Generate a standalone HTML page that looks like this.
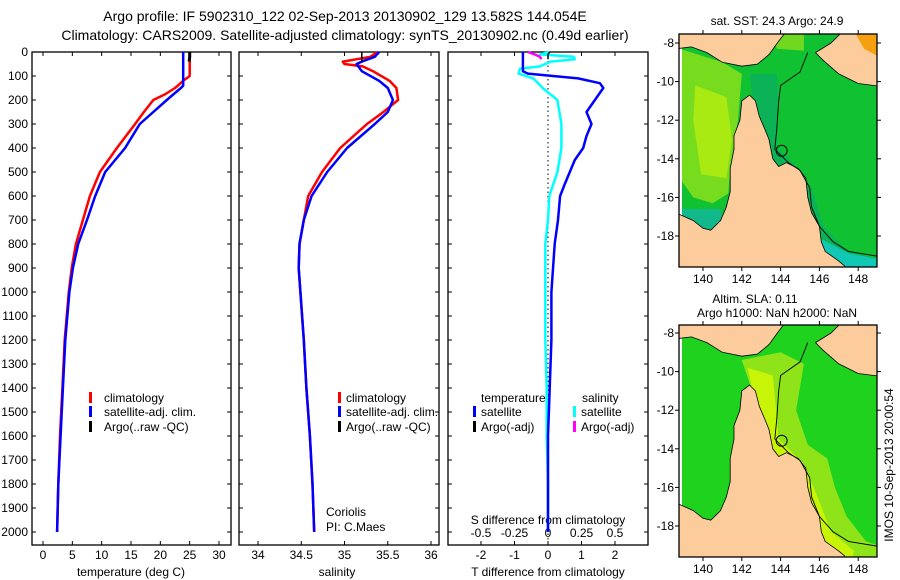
<!DOCTYPE html>
<html><head><meta charset="utf-8">
<style>
html,body{margin:0;padding:0;background:#fff;}
svg{display:block;font-family:"Liberation Sans",sans-serif;}
text{fill:#000;}
</style></head>
<body>
<svg id="fig" width="900" height="580" viewBox="0 0 900 580">
<text x="345" y="21" font-size="14" text-anchor="middle">Argo profile: IF 5902310_122 02-Sep-2013 20130902_129 13.582S 144.054E</text>
<text x="345" y="40" font-size="14" text-anchor="middle">Climatology: CARS2009. Satellite-adjusted climatology: synTS_20130902.nc (0.49d earlier)</text>
<g id="panels"></g>
<g id="maps"></g>
<text transform="translate(893,465) rotate(-90)" font-size="12" text-anchor="middle">IMOS 10-Sep-2013 20:00:54</text>
</svg>
<script>
// ---------- data ----------
const depthT = [0,40,80,100,120,140,150,175,200,250,300,400,500,600,700,800,900,1000,1200,1400,1600,1800,2000];
const tempClim = [25.0,25.0,25.0,25.0,23.9,23.0,22.5,20.9,18.8,17.2,15.7,12.6,9.7,8.0,6.8,5.6,4.9,4.4,3.7,3.3,2.9,2.6,2.4];
const tempSat  = [23.9,23.9,23.9,23.9,23.9,23.9,23.5,22.3,21.1,18.8,16.5,14.0,10.6,8.9,7.5,6.0,5.1,4.5,3.8,3.4,3.0,2.6,2.4];
const depthArgo = [0,20,40];
const tempArgo = [25.0,25.0,24.9];
const depthS = [0,20,40,50,60,80,120,150,200,250,300,400,500,600,700,800,900,1000,1200,1400,1600,1800,2000];
const salClim = [35.38,35.3,34.98,35.0,35.21,35.33,35.52,35.6,35.62,35.45,35.26,34.95,34.74,34.58,34.53,34.48,34.47,34.49,34.53,34.56,34.6,34.63,34.65];
const salSat  = [35.4,35.35,35.2,35.14,35.16,35.2,35.4,35.5,35.56,35.5,35.35,35.03,34.8,34.62,34.53,34.48,34.47,34.49,34.53,34.56,34.6,34.63,34.65];
const salArgo = [35.2,35.2,35.2];
const depthD = [0,40,80,90,110,130,150,200,250,300,350,400,450,500,550,600,700,800,1000,1200,1400,1600,1800,2000];
const tDiff = [-0.75,-0.75,-0.75,-0.6,0.9,1.55,1.65,1.4,1.15,1.3,1.15,1.05,0.8,0.65,0.5,0.36,0.3,0.2,0.1,0.1,0.05,0.0,0.0,0.0];
const depthSD = [0,10,20,30,40,60,70,90,110,150,200,300,400,500,600,700,800,1000,1200,1400,1600,1800,2000];
const sDiff = [0.01,-0.06,0.19,0.2,0.02,-0.06,-0.21,-0.22,-0.11,-0.04,0.07,0.1,0.1,0.07,0.01,0.0,-0.02,-0.02,-0.02,-0.01,-0.01,0.0,0.0];
const depthArgoD = [0,10,20,30];
const sDiffArgo = [-0.15,-0.1,-0.06,-0.05];
const tDiffArgo = [0.05,0.0,0.0,0.0];
const depthTicks = [0,100,200,300,400,500,600,700,800,900,1000,1100,1200,1300,1400,1500,1600,1700,1800,1900,2000];
const tempTicks = [0,5,10,15,20,25,30];
const salTicks = [34,34.5,35,35.5,36];
const salTickLabels = ["34","34.5","35","35.5","36"];
const tdTicks = [-2,-1,0,1,2];
const sdTicks = [-0.5,-0.25,0,0.25,0.5];
const sdTickLabels = ["-0.5","-0.25","0","0.25","0.5"];

// ---------- helpers ----------
const NS="http://www.w3.org/2000/svg";
function mk(tag, attrs, parent){const e=document.createElementNS(NS,tag);for(const k in attrs)e.setAttribute(k,attrs[k]);(parent||document.getElementById('fig')).appendChild(e);return e;}
const Y0=52, Y1=545;
const yD = d => 52 + d*0.24;
const xT = v => 43 + v*(176/30);
const xS = v => 258 + (v-34)*86.5;
const xTD = v => 548 + v*33.5;
const xSD = v => 548 + v*134;
const P = document.getElementById('panels');

function frame(x0,x1,name){
  const r=mk('rect',{x:x0,y:Y0,width:x1-x0,height:Y1-Y0,fill:'none',stroke:'#000','stroke-width':1.3},P);
  
  
  depthTicks.forEach(d=>{
    mk('line',{x1:x0,x2:x0+4,y1:yD(d),y2:yD(d),stroke:'#000'},P);
    mk('line',{x1:x1,x2:x1-4,y1:yD(d),y2:yD(d),stroke:'#000'},P);
  });
}
function xticks(vals,labels,fx,yl,name){
  vals.forEach((v,i)=>{
    mk('line',{x1:fx(v),x2:fx(v),y1:Y1,y2:Y1-4,stroke:'#000'},P);
    mk('line',{x1:fx(v),x2:fx(v),y1:Y0,y2:Y0+4,stroke:'#000'},P);
    const t=mk('text',{x:fx(v),y:yl,'font-size':12,'text-anchor':'middle'},P);
    t.textContent=labels[i];
    
    
  });
}
function line(xs,ds,fx,col,w,name){
  const pts=xs.map((v,i)=>fx(v).toFixed(1)+','+yD(ds[i]).toFixed(1)).join(' ');
  const p=mk('polyline',{points:pts,fill:'none',stroke:col,'stroke-width':w,'stroke-linejoin':'round'},P);
  
  
}
function txt(x,y,s,size,name,anchor){
  const t=mk('text',{x:x,y:y,'font-size':size||12,'text-anchor':anchor||'start'},P);
  t.textContent=s;
  
  
  return t;
}
function legMark(x,y,col,name){
  const r=mk('rect',{x:x,y:y-10,width:3,height:11,fill:col},P);
  
  
}

// ---------- panel 1: temperature ----------
frame(32,231,'temperature-panel');
depthTicks.forEach(d=>{txt(28,yD(d)+4,String(d),12,'y-tick-label','end');});
xticks(tempTicks,tempTicks.map(String),xT,559,'temperature-x-tick');
txt(131,576,'temperature (deg C)',12,'temperature-x-title','middle');
line(tempClim,depthT,xT,'#ff0000',2.5,'temp-climatology-line');
line(tempSat,depthT,xT,'#0000ff',2.5,'temp-satellite-line');
line(tempArgo,depthArgo,xT,'#000',3,'temp-argo-line');
legMark(89,402,'#ff0000','legend-climatology-mark');txt(104,402,'climatology',12,'legend-climatology');
legMark(89,416,'#0000ff','legend-satellite-mark');txt(104,416,'satellite-adj. clim.',12,'legend-satellite');
legMark(89,431,'#000','legend-argo-mark');txt(104,431,'Argo(..raw -QC)',12,'legend-argo');

// ---------- panel 2: salinity ----------
frame(239,439,'salinity-panel');
xticks(salTicks,salTickLabels,xS,559,'salinity-x-tick');
txt(337,576,'salinity',12,'salinity-x-title','middle');
line(salClim,depthS,xS,'#ff0000',2.5,'sal-climatology-line');
line(salSat,depthS,xS,'#0000ff',2.5,'sal-satellite-line');
line(salArgo,depthArgo,xS,'#000',1.5,'sal-argo-line');
legMark(338,402,'#ff0000','legend-climatology-mark');txt(346,402,'climatology',12,'legend-climatology');
legMark(338,416,'#0000ff','legend-satellite-mark');txt(346,416,'satellite-adj. clim.',12,'legend-satellite');
legMark(338,431,'#000','legend-argo-mark');txt(346,431,'Argo(..raw -QC)',12,'legend-argo');
txt(326,516,'Coriolis',12,'data-centre-label');
txt(326,531,'PI: C.Maes',12,'pi-label');

// ---------- panel 3: differences ----------
frame(448,648,'difference-panel');
mk('line',{x1:548,x2:548,y1:Y0,y2:Y1,stroke:'#000','stroke-dasharray':'1.5,3'},P);
xticks(tdTicks,tdTicks.map(String),xTD,559,'t-diff-x-tick');
sdTicks.forEach((v,i)=>{txt(xSD(v),537,sdTickLabels[i],12,'s-diff-x-tick','middle');});
txt(548,524,'S difference from climatology',12,'s-diff-x-title','middle');
txt(548,576,'T difference from climatology',12,'t-diff-x-title','middle');
line(sDiff,depthSD,xSD,'#00ffff',2.5,'sal-diff-satellite-line');
line(tDiff,depthD,xTD,'#0000ff',2.5,'temp-diff-satellite-line');
line(sDiffArgo,depthArgoD,xSD,'#ff00ff',2.5,'sal-diff-argo-line');
line(tDiffArgo,depthArgoD,xTD,'#000',1.5,'temp-diff-argo-line');
txt(481,402,'temperature',12,'legend-temperature-header');
txt(582,402,'salinity',12,'legend-salinity-header');
legMark(473,416,'#0000ff','legend-t-sat-mark');txt(481,416,'satellite',12,'legend-t-satellite');
legMark(473,431,'#000','legend-t-argo-mark');txt(481,431,'Argo(-adj)',12,'legend-t-argo');
legMark(573,416,'#00ffff','legend-s-sat-mark');txt(581,416,'satellite',12,'legend-s-satellite');
legMark(573,431,'#ff00ff','legend-s-argo-mark');txt(581,431,'Argo(-adj)',12,'legend-s-argo');

// ---------- maps ----------
const M=document.getElementById('maps');
function drawMap(top,bot,latTopPx,kind){
  const X0=679,X1=877;
  const lx=lon=>703+(lon-140)*19.4;
  const ly=lat=>latTopPx+(-8-lat)*19.3;
  const pts=a=>a.map(p=>lx(p[0]).toFixed(1)+','+ly(p[1]).toFixed(1)).join(' ');
  const g=mk('g',{},M);
  
  
  const cid='clip'+kind;
  const cp=mk('clipPath',{id:cid},g);
  const ocean=[[138.6,-8.3],[139.4,-8.2],[140.2,-8.5],[141,-9.0],[142,-9.2],[142.8,-9.1],[143.4,-8.6],[143.9,-7.9],[144.3,-7.4],[147.2,-7.4],[146.6,-8.0],[145.8,-8.5],[146.2,-8.9],[147,-9.6],[148,-10.1],[149.6,-10.3],[149.6,-19.9],[147.3,-19.9],[147.3,-19.55],[147.0,-19.3],[146.3,-18.8],[146.1,-18.3],[146.0,-17.5],[145.6,-16.8],[145.4,-16.0],[145.3,-15.0],[144.9,-14.5],[144.3,-14.2],[143.9,-14.4],[143.6,-14.0],[143.4,-13.0],[143.2,-12.5],[142.9,-11.8],[142.7,-11.0],[142.4,-10.7],[142.0,-11.0],[141.9,-12],[141.6,-12.8],[141.6,-13.5],[141.4,-14.5],[141.4,-15.7],[141.2,-16.5],[140.9,-17.2],[140.4,-17.7],[140.0,-17.6],[139.5,-17.2],[138.6,-16.8]];
  mk('polygon',{points:pts(ocean)},cp);
  const cp2=mk('clipPath',{id:cid+'b'},g);mk('rect',{x:X0,y:top,width:X1-X0,height:bot-top},cp2);
  const outer=mk('g',{'clip-path':'url(#'+cid+'b)'},g);
  mk('rect',{x:X0,y:top,width:X1-X0,height:bot-top,fill:'#fccc9c'},outer);
  const inner=mk('g',{'clip-path':'url(#'+cid+')'},outer);
  mk('rect',{x:X0,y:top,width:X1-X0,height:bot-top,fill:kind==='sst'?'#10c232':'#1ed21e'},inner);
  if(kind==='sst'){
    mk('polygon',{points:pts([[138.8,-8.3],[141,-9.0],[142,-9.6],[141.8,-12],[141.4,-14.5],[141.3,-15.8],[140.5,-16.3],[139.5,-16.0],[138.8,-15.0]]),fill:'#78dc1e'},inner);
    mk('polygon',{points:pts([[139.6,-10.2],[141.2,-10.8],[141.5,-13],[141.2,-15.0],[139.9,-14.8],[139.5,-12]]),fill:'#a8ea12'},inner);
    mk('polygon',{points:pts([[142.4,-9.6],[143.8,-9.6],[143.9,-11],[143.8,-13.4],[144.6,-14.2],[145.6,-15.5],[146.2,-17.5],[147.5,-18.8],[149.6,-19.3],[149.6,-19.9],[146,-19.9],[145,-16],[143.6,-14.3],[142.6,-11.2]]),fill:'#0cb256'},inner);
    mk('polygon',{points:pts([[145.8,-18.0],[147.5,-18.9],[149.6,-19.3],[149.6,-19.9],[146.6,-19.9]]),fill:'#10c8b4'},inner);
    mk('polygon',{points:pts([[138.6,-16.6],[140.9,-16.6],[141.1,-17.5],[140,-18.0],[138.6,-17.5]]),fill:'#10b88a'},inner);
    mk('polygon',{points:pts([[143.6,-7.4],[145.2,-7.4],[145.2,-8.4],[143.8,-8.3]]),fill:'#70d820'},inner);
  } else {
    mk('polygon',{points:pts([[142.0,-9.4],[144.0,-9.0],[145.2,-9.6],[144.8,-12],[145.4,-13.8],[146.4,-14.5],[146.8,-16],[147.4,-17.5],[148.4,-18.8],[149.6,-19.2],[149.6,-19.9],[146,-19.9],[145.2,-16],[143.6,-14.3],[142.6,-11.2]]),fill:'#8ee418'},inner);
    mk('polygon',{points:pts([[142.3,-9.8],[143.6,-10.2],[143.9,-13.5],[145.2,-14.8],[145.9,-16.5],[146.6,-18.3],[147.8,-19.3],[147.6,-19.9],[146,-19.9],[145.2,-16],[143.6,-14.3],[142.6,-11.2]]),fill:'#c8f408'},inner);
    mk('polygon',{points:pts([[147.6,-7.4],[149.6,-7.4],[149.6,-9.4],[148.5,-8.7]]),fill:'#60e020'},inner);
  }
  mk('rect',{x:X0,y:top,width:3,height:bot-top,fill:'#fff'},inner);
  mk('polygon',{points:pts(ocean),fill:'none',stroke:'#000','stroke-width':0.8},outer);
  if(kind==='sst'){
    mk('polygon',{points:pts([[147.8,-7.4],[149.6,-7.4],[149.6,-9.0],[148.3,-8.3]]),fill:'#f5a010'},outer);
  }
  mk('polyline',{points:pts([[145.4,-8.5],[145.0,-9.5],[144.0,-10.2],[143.9,-11],[143.8,-12.5],[143.7,-13.5],[144.4,-14.2],[145.0,-14.6],[145.5,-15.5],[145.6,-16.5],[146,-17.5],[146.7,-18.3],[147.5,-18.8],[149.3,-19.1]]),fill:'none',stroke:'#000','stroke-width':0.9},outer);
  const c=mk('circle',{cx:lx(144.054),cy:ly(-13.582),r:5.5,fill:'none',stroke:'#000','stroke-width':1},g);
  
  
  mk('rect',{x:X0,y:top,width:X1-X0,height:bot-top,fill:'none',stroke:'#000','stroke-width':1.3},g);
  [140,142,144,146,148].forEach(lon=>{
    mk('line',{x1:lx(lon),x2:lx(lon),y1:top,y2:top-4,stroke:'#000'},g);
    mk('line',{x1:lx(lon),x2:lx(lon),y1:bot,y2:bot+4,stroke:'#000'},g);
    const t=mk('text',{x:lx(lon),y:bot+16,'font-size':12,'text-anchor':'middle'},g);t.textContent=String(lon);
    
    
  });
  [-8,-10,-12,-14,-16,-18].forEach(lat=>{
    mk('line',{x1:X0,x2:X0-4,y1:ly(lat),y2:ly(lat),stroke:'#000'},g);
    mk('line',{x1:X1,x2:X1+4,y1:ly(lat),y2:ly(lat),stroke:'#000'},g);
    const t=mk('text',{x:X0-5,y:ly(lat)+4,'font-size':12,'text-anchor':'end'},g);t.textContent=String(lat);
    
    
  });
}
drawMap(34,267,43,'sst');
drawMap(325,557,333,'sla');
function mt(x,y,s,name){const t=mk('text',{x:x,y:y,'font-size':12,'text-anchor':'middle'},M);t.textContent=s;}
mt(777,25,'sat. SST: 24.3 Argo: 24.9','sst-map-title');
mt(755,303,'Altim. SLA: 0.11','sla-map-title');
mt(777,317,'Argo h1000: NaN h2000: NaN','argo-height-title');
</script>
</body></html>
